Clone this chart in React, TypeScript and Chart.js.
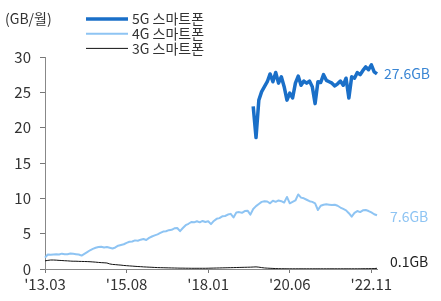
import React, { useEffect, useRef } from 'react';
import { Chart, registerables } from 'chart.js';

Chart.register(...registerables);

const FONT = "'Noto Sans CJK KR', 'Noto Sans', sans-serif";

// Monthly categories: 2013.03 .. 2023.01
const START_YEAR = 2013;
const START_MONTH = 3;
const COUNT = 119;
const months: string[] = [];
for (let i = 0; i < COUNT; i++) {
  const m0 = START_MONTH - 1 + i;
  const y = START_YEAR + Math.floor(m0 / 12);
  const m = (m0 % 12) + 1;
  months.push(`'${String(y).slice(2)}.${String(m).padStart(2, '0')}`);
}

const tickLabels = ["'13.03", "'15.08", "'18.01", "'20.06", "'22.11"];
const yTicks = [0, 5, 10, 15, 20, 25, 30];

const unitLabel = '(GB/월)';
const seriesNames = ['5G 스마트폰', '4G 스마트폰', '3G 스마트폰'];
const endLabels = ['27.6GB', '7.6GB', '0.1GB'];

// 5G starts at 2019.05
const g5Start = "'19.05";
const g5Values = [
  23.0, 18.6, 23.9, 25.1, 25.8, 26.5, 27.6, 26.5, 27.8, 26.3,
  27.2, 25.8, 23.9, 24.9, 24.2, 26.3, 27.3, 26.0, 26.6, 26.3,
  26.6, 25.8, 23.4, 26.5, 26.4, 27.5, 26.7, 26.5, 26.3, 25.9,
  26.2, 26.6, 26.0, 27.0, 24.2, 27.2, 27.0, 27.8, 27.5, 28.1,
  28.6, 28.2, 28.9, 27.9, 27.6,
];

const g4Values = [
  1.6, 2.05, 2.0, 2.05, 2.1, 2.05, 2.17, 2.1, 2.1, 2.2,
  2.15, 2.1, 2.05, 1.9, 2.15, 2.4, 2.65, 2.85, 3.0, 3.1,
  3.15, 3.05, 3.1, 3.0, 2.9, 3.05, 3.3, 3.4, 3.5, 3.7,
  3.85, 3.9, 4.05, 4.0, 4.15, 4.25, 4.1, 4.4, 4.6, 4.75,
  4.9, 5.1, 5.3, 5.35, 5.5, 5.55, 5.75, 5.8, 5.35, 5.8,
  6.2, 6.4, 6.65, 6.6, 6.75, 6.6, 6.8, 6.65, 6.75, 6.35,
  6.8, 7.1, 7.2, 7.45, 7.5, 7.7, 7.8, 7.3, 8.0, 8.05,
  7.95, 8.2, 8.25, 7.7, 8.5, 8.9, 9.2, 9.5, 9.6, 9.55,
  9.3, 9.65, 9.5, 9.7, 9.6, 9.4, 10.2, 9.3, 9.5, 9.7,
  10.55, 10.1, 10.0, 9.8, 9.6, 9.5, 9.3, 8.35, 8.95, 9.1,
  9.15, 9.1, 9.05, 9.1, 8.95, 8.7, 8.5, 8.3, 7.9, 7.4,
  7.95, 8.2, 8.05, 8.3, 8.35, 8.2, 8.0, 7.75, 7.6,
];

const g3Values = [
  1.15, 1.22, 1.27, 1.27, 1.25, 1.22, 1.2, 1.17, 1.15, 1.12,
  1.1, 1.1, 1.08, 1.07, 1.06, 1.05, 1.03, 1.0, 0.97, 0.93,
  0.9, 0.88, 0.85, 0.72, 0.65, 0.62, 0.58, 0.55, 0.5, 0.47,
  0.44, 0.41, 0.38, 0.35, 0.33, 0.3, 0.28, 0.26, 0.24, 0.22,
  0.2, 0.19, 0.18, 0.17, 0.16, 0.15, 0.14, 0.13, 0.12, 0.12,
  0.11, 0.11, 0.1, 0.1, 0.1, 0.1, 0.1, 0.1, 0.11, 0.12,
  0.13, 0.14, 0.15, 0.16, 0.17, 0.18, 0.19, 0.2, 0.21, 0.22,
  0.23, 0.24, 0.25, 0.26, 0.28, 0.3, 0.26, 0.2, 0.15, 0.12,
  0.1, 0.08, 0.06, 0.05, 0.04, 0.04, 0.03, 0.03, 0.03, 0.03,
  0.03, 0.03, 0.03, 0.03, 0.03, 0.03, 0.03, 0.03, 0.03, 0.03,
  0.03, 0.03, 0.03, 0.03, 0.03, 0.03, 0.03, 0.03, 0.03, 0.03,
  0.03, 0.03, 0.03, 0.04, 0.04, 0.05, 0.05, 0.06, 0.1,
];

const lineColors = ['#1a6fc8', '#8ec4f3', '#111111'];
const lineWidths = [3.5, 2, 1];
const endColors = ['#3a86d4', '#8ec4f3', '#222222'];
const endDx = [7, 13, 13];
const endDy = [0, 1, -7];

const overlayPlugin = {
  id: 'overlay',
  afterDraw(chart: any) {
    const ctx = chart.ctx;
    ctx.save();
    ctx.font = `14px ${FONT}`;
    ctx.textBaseline = 'middle';
    ctx.textAlign = 'left';
    ctx.fillStyle = '#333';
    ctx.fillText(unitLabel, 5, 19);
    chart.data.datasets.forEach((ds: any, i: number) => {
      const y = 19 + i * 14.7;
      ctx.strokeStyle = ds.borderColor;
      ctx.lineWidth = ds.borderWidth;
      ctx.beginPath();
      ctx.moveTo(86, y);
      ctx.lineTo(128, y);
      ctx.stroke();
      ctx.fillStyle = '#333';
      ctx.fillText(ds.label, 132, y);
    });
    chart.data.datasets.forEach((ds: any, i: number) => {
      const meta = chart.getDatasetMeta(i);
      const pt = meta.data[meta.data.length - 1];
      if (!pt) return;
      ctx.fillStyle = endColors[i];
      ctx.fillText(endLabels[i], pt.x + endDx[i], pt.y + endDy[i]);
    });
    ctx.restore();
  },
};

export default function App() {
  const ref = useRef<HTMLCanvasElement>(null);
  useEffect(() => {
    document.body.style.margin = '0';
    if (!ref.current) return;
    const startIdx = months.indexOf(g5Start);
    const g5Full: (number | null)[] = months.map((_, i) =>
      i < startIdx ? null : g5Values[i - startIdx] ?? null
    );
    const chart = new Chart(ref.current, {
      type: 'line',
      data: {
        labels: months,
        datasets: [
          { label: seriesNames[0], data: g5Full, borderColor: lineColors[0], backgroundColor: lineColors[0], borderWidth: lineWidths[0], pointRadius: 0, tension: 0, spanGaps: false, borderJoinStyle: 'round' },
          { label: seriesNames[1], data: g4Values, borderColor: lineColors[1], backgroundColor: lineColors[1], borderWidth: lineWidths[1], pointRadius: 0, tension: 0, borderJoinStyle: 'round' },
          { label: seriesNames[2], data: g3Values, borderColor: lineColors[2], backgroundColor: lineColors[2], borderWidth: lineWidths[2], pointRadius: 0, tension: 0 },
        ],
      },
      options: {
        responsive: false,
        animation: false,
        layout: { padding: { top: 57, right: 64, left: 0, bottom: 0 } },
        plugins: { legend: { display: false }, tooltip: { enabled: false } },
        scales: {
          x: {
            type: 'category',
            offset: false,
            grid: {
              drawOnChartArea: false,
              drawTicks: true,
              tickLength: 4,
              tickColor: (c: any) => (tickLabels.includes(months[c.index]) ? '#777' : 'rgba(0,0,0,0)'),
            },
            border: { color: '#888', width: 1 },
            ticks: {
              autoSkip: false,
              maxRotation: 0,
              minRotation: 0,
              padding: 2,
              color: '#333',
              font: { family: FONT, size: 15 },
              callback: (_v: any, i: number) => (tickLabels.includes(months[i]) ? months[i] : ''),
            },
            afterFit: (s: any) => { s.height = 32; },
          },
          y: {
            min: yTicks[0],
            max: yTicks[yTicks.length - 1],
            ticks: { stepSize: 5, padding: 9, color: '#333', font: { family: FONT, size: 15 } },
            grid: { drawOnChartArea: false, tickLength: 5, tickColor: '#777' },
            border: { color: '#888', width: 1 },
            afterFit: (s: any) => { s.width = 45; },
          },
        },
      },
      plugins: [overlayPlugin],
    });
    return () => chart.destroy();
  }, []);
  return (
    <div style={{ width: 441, height: 301 }}>
      <canvas ref={ref} width={441} height={301} style={{ display: 'block' }} />
    </div>
  );
}
